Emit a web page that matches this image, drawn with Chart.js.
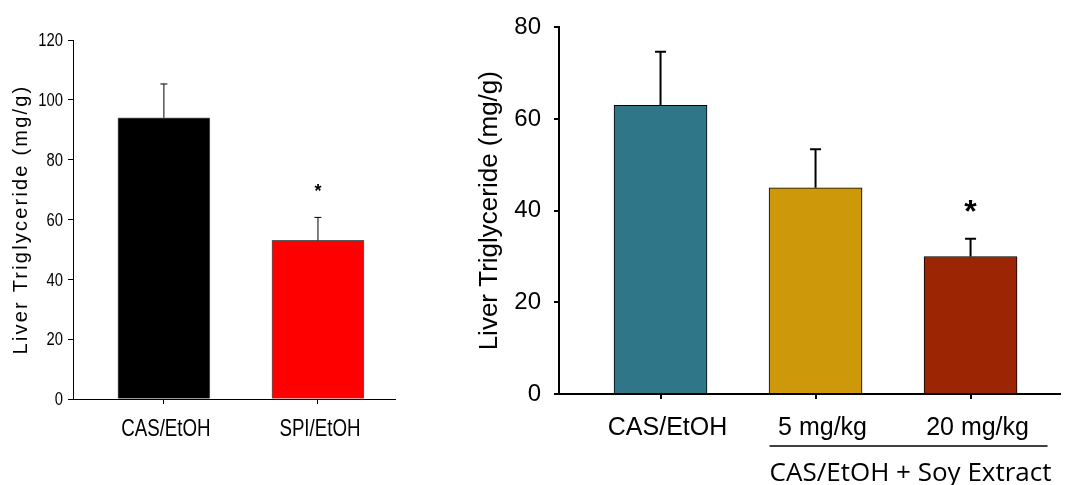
<!DOCTYPE html>
<html>
<head>
<meta charset="utf-8">
<script src="https://cdn.jsdelivr.net/npm/chart.js@4.4.1/dist/chart.umd.min.js"></script>
<style>
html, body { margin: 0; padding: 0; background: #fff; }
#wrap { position: relative; width: 1066px; height: 485px; overflow: hidden; }
#leftChart { position: absolute; left: 0; top: 0; }
#rightChart { position: absolute; left: 430px; top: 0; }
</style>
</head>
<body>
<div id="wrap">
  <canvas id="leftChart" width="430" height="485"></canvas>
  <canvas id="rightChart" width="636" height="485"></canvas>
</div>
<script>
// left panel
var leftGroups = ['CAS/EtOH', 'SPI/EtOH'];
var leftMeans = [94, 53];
var leftErrors = [11.3, 7.7];
var leftMarks = ['', '*'];
var leftColors = ['#000000', '#ff0000'];

// right panel
var rightGroups = ['CAS/EtOH', '5 mg/kg', '20 mg/kg'];
var rightMeans = [63, 45, 30];
var rightErrors = [11.7, 8.4, 3.9];
var rightMarks = ['', '', '*'];
var rightColors = ['#2f7788', '#cd990a', '#9c2604'];
var rightGroupLabel = 'CAS/EtOH + Soy Extract';
var rightGroupMembers = [1, 2];

var yTitle = 'Liver Triglyceride (mg/g)';
var arial = "'Liberation Sans', Arial, sans-serif";

function points(means) {
    return means.map(function (v, i) { return {x: i, y: v}; });
}

// error bars, significance marks, group bracket, condensed labels, spaced axis title
var barExtras = {
    id: 'barExtras',
    afterDatasetsDraw: function (chart, args, opts) {
        var ctx = chart.ctx;
        var meta = chart.getDatasetMeta(0);
        var xs = chart.scales.x;
        var ys = chart.scales.y;
        var area = chart.chartArea;
        ctx.save();
        ctx.strokeStyle = '#000';
        ctx.fillStyle = '#000';
        ctx.lineWidth = opts.lineWidth;
        meta.data.forEach(function (bar, i) {
            var v = chart.data.datasets[0].data[i].y;
            var yTop = ys.getPixelForValue(v + opts.errors[i]);
            var yBar = ys.getPixelForValue(v);
            ctx.beginPath();
            ctx.moveTo(bar.x, yBar);
            ctx.lineTo(bar.x, yTop);
            ctx.moveTo(bar.x - opts.cap, yTop);
            ctx.lineTo(bar.x + opts.cap, yTop);
            ctx.stroke();
            if (opts.marks[i]) {
                ctx.font = opts.markFont;
                ctx.textAlign = 'center';
                ctx.textBaseline = 'alphabetic';
                ctx.fillText(opts.marks[i], bar.x, yTop - opts.markGap);
            }
        });
        if (opts.group) {
            var x0 = xs.getPixelForValue(opts.group.members[0]) - 46;
            var x1 = xs.getPixelForValue(opts.group.members[1]) + 77;
            var yl = area.bottom + 52;
            ctx.lineWidth = 1.5;
            ctx.beginPath();
            ctx.moveTo(x0, yl);
            ctx.lineTo(x1, yl);
            ctx.stroke();
            ctx.font = "26px 'Open Sans', sans-serif";
            ctx.textAlign = 'center';
            ctx.textBaseline = 'middle';
            ctx.fillText(opts.group.label, (x0 + x1) / 2 + 2, yl + 28);
        }
        if (opts.condensed) {
            // narrow-style tick labels (no narrow face installed)
            var c = opts.condensed;
            ctx.textBaseline = 'middle';
            ctx.textAlign = 'center';
            ctx.font = c.xFont;
            xs.ticks.forEach(function (t) {
                ctx.save();
                ctx.translate(xs.getPixelForValue(t.value) + c.xShift, area.bottom + c.xGap);
                ctx.scale(c.squeeze, 1);
                ctx.fillText(c.groups[t.value], 0, 0);
                ctx.restore();
            });
            ctx.textAlign = 'right';
            ctx.font = c.yFont;
            ys.ticks.forEach(function (t) {
                ctx.save();
                ctx.translate(area.left - c.yGap, ys.getPixelForValue(t.value) + 1);
                ctx.scale(c.squeeze, 1);
                ctx.fillText(String(t.value), 0, 0);
                ctx.restore();
            });
        }
        if (opts.spacedTitle) {
            ctx.translate(opts.spacedTitle.x, (area.top + area.bottom) / 2);
            ctx.rotate(-Math.PI / 2);
            ctx.font = opts.spacedTitle.font;
            ctx.letterSpacing = opts.spacedTitle.spacing;
            ctx.textAlign = 'center';
            ctx.textBaseline = 'alphabetic';
            ctx.fillText(yTitle, 0, 0);
        }
        ctx.restore();
    }
};

function makePanel(id, cfg) {
    var canvas = document.getElementById(id);
    var W = canvas.width, H = canvas.height;
    return new Chart(canvas.getContext('2d'), {
        type: 'bar',
        data: {
            datasets: [{
                data: points(cfg.means),
                backgroundColor: cfg.colors,
                borderColor: cfg.barBorder,
                borderWidth: 1,
                barThickness: cfg.barWidth
            }]
        },
        plugins: [barExtras],
        options: {
            responsive: false,
            animation: false,
            devicePixelRatio: 1,
            layout: {
                autoPadding: false,
                padding: {left: 0, top: cfg.area.top, right: W - cfg.area.right, bottom: 0}
            },
            plugins: {
                legend: {display: false},
                tooltip: {enabled: false},
                barExtras: {
                    errors: cfg.errors,
                    marks: cfg.marks,
                    markFont: cfg.markFont,
                    markGap: cfg.markGap,
                    cap: cfg.cap,
                    lineWidth: cfg.lineWidth,
                    group: cfg.group,
                    condensed: cfg.condensed,
                    spacedTitle: cfg.spacedTitle
                }
            },
            scales: {
                x: {
                    type: 'linear',
                    min: cfg.xMin,
                    max: cfg.xMax,
                    offset: false,
                    afterBuildTicks: function (s) {
                        s.ticks = cfg.groups.map(function (g, i) { return {value: i}; });
                    },
                    afterFit: function (s) { s.height = H - cfg.area.bottom; },
                    grid: {display: true, offset: false, drawOnChartArea: false, drawTicks: true, tickLength: 5, color: '#000', lineWidth: cfg.lineWidth},
                    border: {display: true, color: '#000', width: cfg.lineWidth},
                    ticks: {
                        display: !cfg.condensed,
                        autoSkip: false,
                        maxRotation: 0,
                        padding: cfg.xPad,
                        labelOffset: cfg.labelOffset,
                        color: '#000',
                        font: cfg.xFont,
                        callback: function (v) { return cfg.groups[v]; }
                    }
                },
                y: {
                    min: 0,
                    max: cfg.yMax,
                    afterFit: function (s) { s.width = cfg.area.left; },
                    grid: {display: true, drawOnChartArea: false, drawTicks: true, tickLength: 5, color: '#000', lineWidth: cfg.lineWidth},
                    border: {display: true, color: '#000', width: cfg.lineWidth},
                    ticks: {display: !cfg.condensed, stepSize: 20, padding: cfg.yPad, color: '#000', font: cfg.yFont},
                    title: {display: !cfg.spacedTitle, text: yTitle, color: '#000', font: cfg.titleFont, padding: {top: cfg.titlePad, bottom: 0}}
                }
            }
        }
    });
}

makePanel('leftChart', {
    groups: leftGroups, means: leftMeans, errors: leftErrors, marks: leftMarks, colors: leftColors,
    barBorder: '#5a5a5a', barWidth: 92, area: {left: 73, right: 395, top: 40, bottom: 399},
    xMin: -0.59, xMax: 1.5, yMax: 120, lineWidth: 1, cap: 3.5,
    markFont: "bold 18px " + arial, markGap: 20,
    condensed: {groups: leftGroups, xFont: "24px " + arial, yFont: "19px " + arial, squeeze: 0.78, xGap: 30, xShift: 2, yGap: 10},
    spacedTitle: {x: 27, font: "20px " + arial, spacing: '2.2px'}
});

makePanel('rightChart', {
    groups: rightGroups, means: rightMeans, errors: rightErrors, marks: rightMarks, colors: rightColors,
    barBorder: '#000000', barWidth: 93, area: {left: 129, right: 630, top: 24, bottom: 394},
    xMin: -0.655, xMax: 2.577, yMax: 80, lineWidth: 2, cap: 5.5,
    markFont: "bold 32px " + arial, markGap: 17,
    xFont: {family: arial, size: 25}, xPad: 14, labelOffset: 7,
    yFont: {family: arial, size: 24}, yPad: 13,
    titleFont: {family: arial, size: 26}, titlePad: 44,
    group: {label: rightGroupLabel, members: rightGroupMembers}
});
</script>
</body>
</html>
